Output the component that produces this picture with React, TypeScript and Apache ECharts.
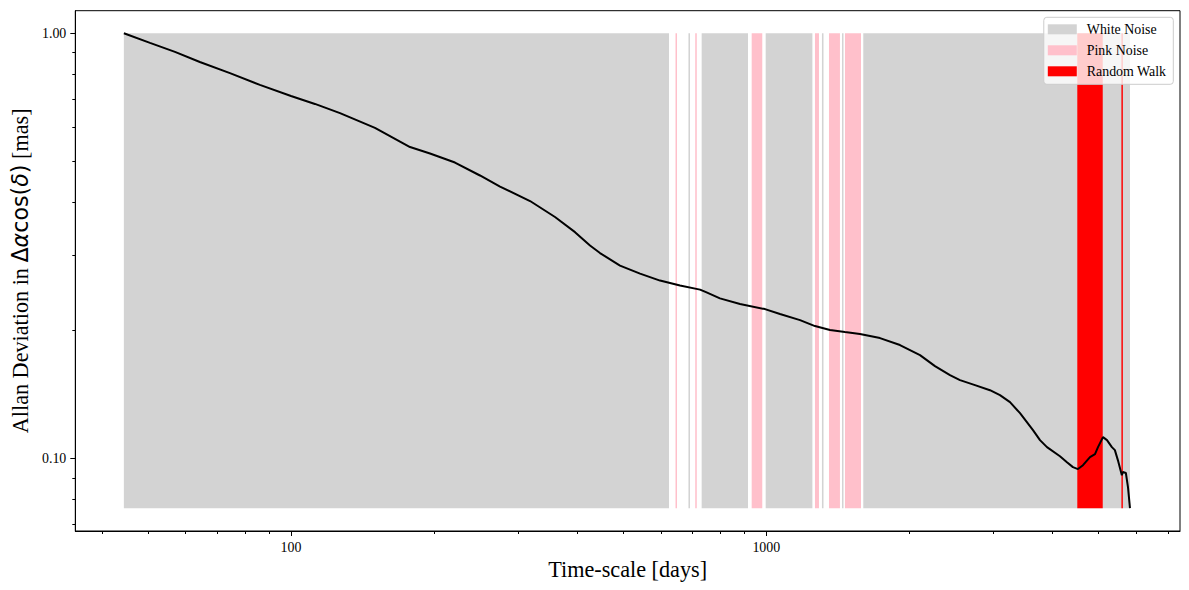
import React, { useEffect, useRef } from 'react';
import * as echarts from 'echarts';

// Time-scale (days) and Allan deviation (mas)
const TAU_DAYS = [
  44.5, 50.5, 57.0, 64.3, 74.4, 86.0, 100, 112.3, 126.8, 150.2, 178.0, 196.1, 221.3, 249.8,
  275.3, 318.4, 359.3, 395.9, 425.7, 446.8, 492.3, 542.5, 597.6, 658.4, 725.4, 746.8, 799.0,
  880.5, 993.8, 1068.6, 1177.6, 1266.0, 1361.5, 1464.0, 1574.5, 1734.6, 1911.1, 2105.9,
  2264.4, 2435.0, 2556.0, 2748.7, 2955.6, 3102.2, 3256.6, 3418.8, 3640.4, 3766.0, 3895.8,
  4148.6, 4291.5, 4417.8, 4526.6, 4638, 4798, 4916, 4988, 5110, 5210, 5335, 5413, 5492,
  5599, 5626, 5709, 5768, 5824,
];
const ALLAN_DEV = [
  1.0, 0.949, 0.904, 0.856, 0.806, 0.756, 0.712, 0.682, 0.649, 0.599, 0.54, 0.5216, 0.4966, 0.4629,
  0.4359, 0.4031, 0.3697, 0.3406, 0.3167, 0.3041, 0.2842, 0.2721, 0.262, 0.255, 0.2495, 0.2461, 0.2379,
  0.2307, 0.2245, 0.2186, 0.2115, 0.2048, 0.2004, 0.1982, 0.1961, 0.1919, 0.1848, 0.175,
  0.1649, 0.157, 0.1528, 0.1487, 0.1447, 0.1409, 0.1357, 0.1278, 0.1166, 0.1104, 0.1063,
  0.1012, 0.098, 0.0954, 0.0944, 0.0964, 0.1007, 0.1023, 0.1063, 0.1122, 0.1104, 0.1063, 0.1046,
  0.0991, 0.0913, 0.0929, 0.0924, 0.0856, 0.0764,
];

// Noise-type spans [start, end] in days
const WHITE_NOISE_SPANS = [
  [44.5, 624.2], [685.9, 691.0], [731.2, 915.3], [997.1, 1250.3], [1309.6, 1319.4],
  [1443.3, 1453.7], [1599.9, 5824],
];
const PINK_NOISE_SPANS = [
  [644.2, 648.9], [708.8, 714.1], [931.7, 980.8], [1266.0, 1290.8], [1354.9, 1428.9],
  [1464.0, 1582.2],
];
const RANDOM_WALK_SPANS = [[4512, 5104], [5587, 5627]];

const X_MAJOR_TICKS = [100, 1000];
const X_MINOR_TICKS = [40, 50, 60, 70, 80, 90, 200, 300, 400, 500, 600, 700, 800, 900, 2000, 3000, 4000, 5000, 6000, 7000];
const Y_MAJOR_TICKS = [0.1, 1.0];
const Y_MINOR_TICKS = [0.07, 0.08, 0.09, 0.2, 0.3, 0.4, 0.5, 0.6, 0.7, 0.8, 0.9];

const X_RANGE = [35.17, 7421];
const Y_RANGE = [0.0675, 1.13];

const SERIF = "'Liberation Serif', 'Times New Roman', serif";

export default function App() {
  const ref = useRef<HTMLDivElement>(null);

  useEffect(() => {
    if (!ref.current) return;
    const chart = echarts.init(ref.current, null, { renderer: 'svg' });

    const bandLo = Math.min(...ALLAN_DEV);
    const bandHi = Math.max(...ALLAN_DEV);

    const spanSeries = (name: string, spans: number[][], color: string, z: number) => ({
      name,
      type: 'custom',
      coordinateSystem: 'cartesian2d',
      xAxisIndex: 0,
      yAxisIndex: 0,
      z,
      silent: true,
      itemStyle: { color },
      encode: { x: [0, 1], y: [2, 3] },
      data: spans.map((s) => [s[0], s[1], bandLo, bandHi]),
      renderItem: (params: any, api: any) => {
        const p0 = api.coord([api.value(0), api.value(3)]);
        const p1 = api.coord([api.value(1), api.value(2)]);
        return {
          type: 'rect',
          shape: { x: p0[0], y: p0[1], width: Math.max(p1[0] - p0[0], 1), height: p1[1] - p0[1] },
          style: { fill: color },
        };
      },
    });

    const lx = X_RANGE.map(Math.log10);
    const ly = Y_RANGE.map(Math.log10);
    const tickLine = { color: '#000', width: 1 };
    const labelStyle = { color: '#000', fontFamily: SERIF, fontSize: 13.9 };

    const option: any = {
      animation: false,
      grid: {
        left: 75.3,
        right: 9,
        top: 10.7,
        bottom: 59,
        show: true,
        borderColor: '#000',
        borderWidth: 1,
        backgroundColor: 'transparent',
        containLabel: false,
        outerBoundsMode: 'none',
      },
      legend: {
        data: ['White Noise', 'Pink Noise', 'Random Walk'],
        orient: 'vertical',
        right: 15.7,
        top: 17.3,
        itemWidth: 29,
        itemHeight: 10,
        itemGap: 5,
        icon: 'rect',
        selectedMode: false,
        backgroundColor: 'rgba(255,255,255,0.8)',
        borderColor: '#cccccc',
        borderWidth: 1,
        borderRadius: 3,
        padding: [4, 7, 5, 4],
        textStyle: { ...labelStyle, lineHeight: 16, padding: [0, 0, 0, 5] },
      },
      xAxis: [
        { type: 'log', logBase: 10, min: X_RANGE[0], max: X_RANGE[1], position: 'bottom', show: false },
        {
          type: 'value',
          min: lx[0],
          max: lx[1],
          position: 'bottom',
          name: 'Time-scale [days]',
          nameLocation: 'middle',
          nameGap: 27,
          nameTextStyle: { color: '#000', fontFamily: SERIF, fontSize: 22.2 },
          axisLine: { show: true, onZero: false, lineStyle: tickLine },
          axisTick: { show: true, inside: false, length: 5, lineStyle: tickLine, customValues: X_MAJOR_TICKS.map(Math.log10) },
          axisLabel: {
            ...labelStyle,
            margin: 9,
            customValues: X_MAJOR_TICKS.map(Math.log10),
            formatter: (v: number) => String(Math.round(Math.pow(10, v))),
          },
          splitLine: { show: false },
        },
        {
          type: 'value',
          min: lx[0],
          max: lx[1],
          position: 'bottom',
          axisLine: { show: false, onZero: false },
          axisTick: { show: true, inside: false, length: 3, lineStyle: tickLine, customValues: X_MINOR_TICKS.map(Math.log10) },
          axisLabel: { show: false },
          splitLine: { show: false },
        },
      ],
      yAxis: [
        { type: 'log', logBase: 10, min: Y_RANGE[0], max: Y_RANGE[1], position: 'left', show: false },
        {
          type: 'value',
          min: ly[0],
          max: ly[1],
          position: 'left',
          name: '{s|Allan Deviation in }{m|Δ}{i|α}{m|cos(}{i|δ}{m|)}{s| [mas]}',
          nameLocation: 'middle',
          nameGap: 43,
          nameRotate: 90,
          nameTextStyle: {
            color: '#000',
            fontSize: 22.2,
            rich: {
              s: { fontFamily: SERIF, fontSize: 22.2, color: '#000' },
              m: { fontFamily: "'DejaVu Sans', sans-serif", fontSize: 22.2, color: '#000' },
              i: { fontFamily: "'DejaVu Sans', sans-serif", fontStyle: 'italic', fontSize: 22.2, color: '#000' },
            },
          },
          axisLine: { show: true, onZero: false, lineStyle: tickLine },
          axisTick: { show: true, inside: false, length: 5, lineStyle: tickLine, customValues: Y_MAJOR_TICKS.map(Math.log10) },
          axisLabel: {
            ...labelStyle,
            margin: 9,
            customValues: Y_MAJOR_TICKS.map(Math.log10),
            formatter: (v: number) => Math.pow(10, v).toFixed(2),
          },
          splitLine: { show: false },
        },
        {
          type: 'value',
          min: ly[0],
          max: ly[1],
          position: 'left',
          axisLine: { show: false, onZero: false },
          axisTick: { show: true, inside: false, length: 3, lineStyle: tickLine, customValues: Y_MINOR_TICKS.map(Math.log10) },
          axisLabel: { show: false },
          splitLine: { show: false },
        },
      ],
      series: [
        spanSeries('White Noise', WHITE_NOISE_SPANS, '#d3d3d3', 1),
        spanSeries('Pink Noise', PINK_NOISE_SPANS, '#ffc0cb', 2),
        spanSeries('Random Walk', RANDOM_WALK_SPANS, '#ff0000', 3),
        {
          name: 'Allan Deviation',
          type: 'line',
          xAxisIndex: 0,
          yAxisIndex: 0,
          z: 5,
          showSymbol: false,
          silent: true,
          lineStyle: { color: '#000', width: 2 },
          itemStyle: { color: '#000' },
          data: TAU_DAYS.map((t, i) => [t, ALLAN_DEV[i]]),
        },
      ],
    };

    chart.setOption(option);
    return () => chart.dispose();
  }, []);

  return (
    <div
      ref={ref}
      style={{ position: 'absolute', left: 0, top: 0, width: 1189, height: 590, background: '#fff' }}
    />
  );
}
